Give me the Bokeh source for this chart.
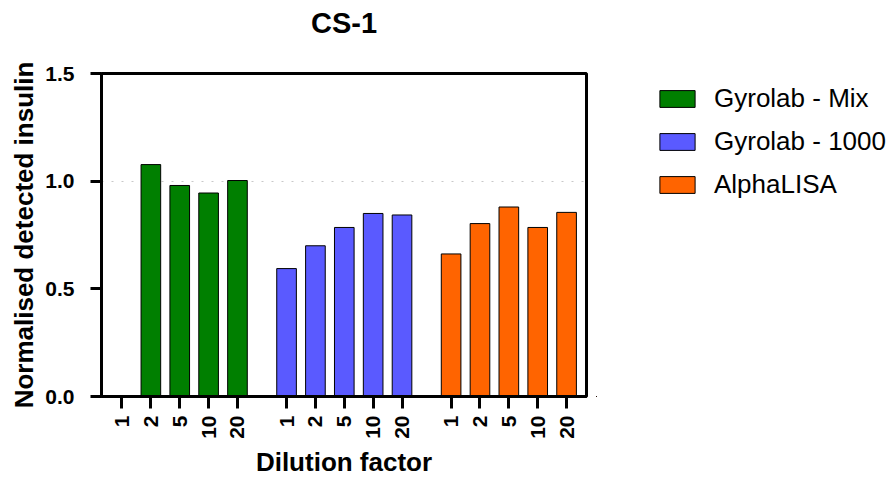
import math
from bokeh.plotting import figure
from bokeh.layouts import row
from bokeh.models import (Range1d, FixedTicker, Legend, LegendItem, Title,
                          ColumnDataSource, NumeralTickFormatter)
from bokeh.embed import file_html
from bokeh.resources import INLINE

# ---- data ----
title_text = "CS-1"
dilutions = ["1", "2", "5", "10", "20"]
series_names = ["Gyrolab - Mix", "Gyrolab - 1000", "AlphaLISA"]
gyrolab_mix = [float("nan"), 1.077, 0.980, 0.945, 1.003]
gyrolab_1000 = [0.594, 0.700, 0.785, 0.850, 0.843]
alphalisa = [0.662, 0.803, 0.880, 0.785, 0.855]
colors = ["#007F00", "#5A5AFF", "#FF6400"]
y_ticks = [0.0, 0.5, 1.0, 1.5]

series_values = [gyrolab_mix, gyrolab_1000, alphalisa]

# layout units: 10 per bar slot, groups separated by an extra gap
SLOT = 10
GROUP_STRIDE = 57
BAR_W = 6.8

FONT = "Liberation Sans"
MAIN_W = 596

p = figure(width=MAIN_W, height=479, output_backend="svg", toolbar_location=None,
           x_range=Range1d(-7.1, 2 * GROUP_STRIDE + 4 * SLOT + 6.9),
           y_range=Range1d(0, 1.5),
           min_border_left=101, min_border_right=MAIN_W - 586,
           min_border_top=73, min_border_bottom=83,
           title=title_text)

p.background_fill_color = "white"
p.border_fill_color = "white"
p.outline_line_color = "black"
p.outline_line_width = 3

# spacer between the frame and the title
p.add_layout(Title(text=" ", text_font_size="10px", standoff=19), "above")

p.title.align = "center"
p.title.text_font = FONT
p.title.text_font_style = "bold"
p.title.text_font_size = "29px"
p.title.text_color = "black"
p.title.standoff = 6

# legend-only panel to the right
q = figure(width=892 - MAIN_W, height=479, output_backend="svg", toolbar_location=None,
           x_axis_type=None, y_axis_type=None, min_border=0,
           x_range=Range1d(1000, 1001), y_range=Range1d(1000, 1001))
q.outline_line_color = None
q.background_fill_color = "white"
q.border_fill_color = "white"
q.xgrid.visible = False
q.ygrid.visible = False

tick_pos = []
tick_labels = {}
legend_renderers = []
for g, (name, vals, col) in enumerate(zip(series_names, series_values, colors)):
    xs = [g * GROUP_STRIDE + i * SLOT for i in range(len(dilutions))]
    for x, lab in zip(xs, dilutions):
        tick_pos.append(x)
        tick_labels[x] = lab
    src = ColumnDataSource(dict(x=xs, top=vals))
    p.vbar(x="x", top="top", width=BAR_W, bottom=0, source=src,
           fill_color=col, line_color="black", line_width=1)
    r = q.vbar(x="x", top="top", width=BAR_W, bottom=0, source=src,
               fill_color=col, line_color="black", line_width=1)
    legend_renderers.append(r)

# grid: only a dotted line at 1.0
p.xgrid.visible = False
p.ygrid.ticker = FixedTicker(ticks=[1.0])
p.ygrid.grid_line_color = "#c8c8c8"
p.ygrid.grid_line_dash = "2 8"
p.ygrid.grid_line_width = 1

# x axis
xa = p.xaxis[0]
xa.ticker = FixedTicker(ticks=tick_pos)
xa.major_label_overrides = tick_labels
xa.major_label_orientation = math.pi / 2
xa.axis_line_width = 3
xa.major_tick_line_width = 3
xa.major_tick_line_color = "black"
xa.major_tick_out = 12
xa.major_tick_in = 0
xa.minor_tick_line_color = None
xa.major_label_text_font = FONT
xa.major_label_text_font_style = "bold"
xa.major_label_text_font_size = "21px"
xa.major_label_text_color = "black"
xa.major_label_standoff = 7
xa.axis_label = "Dilution factor"
xa.axis_label_text_font = FONT
xa.axis_label_text_font_style = "bold"
xa.axis_label_text_font_size = "26px"
xa.axis_label_text_color = "black"
xa.axis_label_standoff = 5

# y axis
ya = p.yaxis[0]
ya.ticker = FixedTicker(ticks=y_ticks)
ya.formatter = NumeralTickFormatter(format="0.0")
ya.axis_line_width = 3
ya.major_tick_line_width = 3
ya.major_tick_line_color = "black"
ya.major_tick_out = 11
ya.major_tick_in = 0
ya.minor_tick_line_color = None
ya.major_label_text_font = FONT
ya.major_label_text_font_style = "bold"
ya.major_label_text_font_size = "21px"
ya.major_label_text_color = "black"
ya.major_label_standoff = 16
ya.axis_label = "Normalised detected insulin"
ya.axis_label_text_font = FONT
ya.axis_label_text_font_style = "bold"
ya.axis_label_text_font_size = "26px"
ya.axis_label_text_color = "black"
ya.axis_label_standoff = 3

legend = Legend(items=[LegendItem(label=n, renderers=[r]) for n, r in zip(series_names, legend_renderers)],
                location=(59, 190), padding=0, margin=0,
                border_line_color=None, background_fill_alpha=0,
                glyph_width=44, glyph_height=21, label_standoff=15,
                spacing=0, label_height=43,
                label_text_font=FONT, label_text_font_size="26px",
                label_text_color="black")
q.add_layout(legend, "center")

layout = row(p, q)
open("out.html", "w").write(file_html(layout, INLINE))
